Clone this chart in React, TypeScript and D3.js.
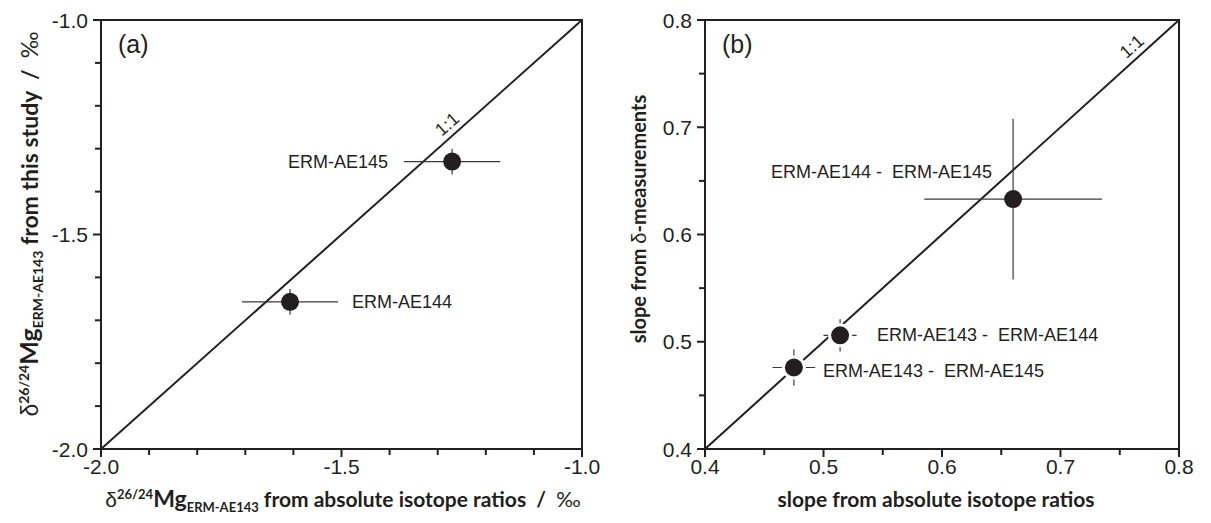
import React from 'react';
import * as d3 from 'd3';

// ---------- data ----------
const aLabels = ['ERM-AE145', 'ERM-AE144'];
const aX = [-1.27, -1.607];
const aXErr = [0.1, 0.1];
const aY = [-1.33, -1.657];
const aYErr = [0.03, 0.03];

const bLabels = ['ERM-AE144 -  ERM-AE145', 'ERM-AE143 -  ERM-AE144', 'ERM-AE143 -  ERM-AE145'];
const bX = [0.66, 0.514, 0.475];
const bXErr = [0.075, 0.014, 0.018];
const bY = [0.633, 0.506, 0.476];
const bYErr = [0.075, 0.015, 0.017];

const aDomain: [number, number] = [-2, -1];
const bDomain: [number, number] = [0.4, 0.8];
const aMajorTicks = [-2.0, -1.5, -1.0];
const aMinorStep = 0.1;
const bMajorTicks = [0.4, 0.5, 0.6, 0.7, 0.8];
const bMinorStep = 0.05;

// ---------- layout ----------
const W = 1211;
const H = 523;
const TOP = 20;
const BOTTOM = 449;
const INK = '#231f20';
const SANS = '"Liberation Sans", Arial, sans-serif';
const BOLD = 'Lato, "Open Sans", sans-serif';

// label placement: [anchor, dx, dy(baseline)]
const aLabelPos: [string, number, number][] = [
  ['end', -64, 6],
  ['start', 62, 6],
];
const bLabelPos: [string, number, number][] = [
  ['end', -21, -21],
  ['start', 37, 6],
  ['start', 29, 10],
];

type PanelProps = {
  x0: number;
  x1: number;
  domain: [number, number];
  majors: number[];
  minorStep: number;
  fmt: (v: number) => string;
  xs: number[];
  ys: number[];
  xe: number[];
  ye: number[];
  labels: string[];
  labelPos: [string, number, number][];
  tag: string;
  halo: boolean;
  oneLabelAt: number;
};

function Panel(p: PanelProps) {
  const x = d3.scaleLinear().domain(p.domain).range([p.x0, p.x1]);
  const y = d3.scaleLinear().domain(p.domain).range([BOTTOM, TOP]);
  const n = Math.round((p.domain[1] - p.domain[0]) / p.minorStep);
  const minors = d3.range(0, n + 1).map((i) => p.domain[0] + i * p.minorStep);
  const isMajor = (v: number) => p.majors.some((m) => Math.abs(m - v) < 1e-9);
  const angle = (-Math.atan((BOTTOM - TOP) / (p.x1 - p.x0)) * 180) / Math.PI;
  const r = 9;
  return (
    <g>
      {/* ticks */}
      {minors.map((v, i) => (
        <line key={'xt' + i} x1={x(v)} x2={x(v)} y1={BOTTOM} y2={BOTTOM + (isMajor(v) ? 8 : 6)} stroke={INK} strokeWidth={2} />
      ))}
      {minors.map((v, i) => (
        <line key={'yt' + i} y1={y(v)} y2={y(v)} x1={p.x0} x2={p.x0 - (isMajor(v) ? 8 : 6)} stroke={INK} strokeWidth={2} />
      ))}
      {p.majors.map((v, i) => (
        <text key={'xl' + i} x={x(v)} y={BOTTOM + 25} textAnchor="middle" fontFamily={SANS} fontSize={21} fill={INK}>
          {p.fmt(v)}
        </text>
      ))}
      {p.majors.map((v, i) => (
        <text key={'yl' + i} x={p.x0 - 13} y={y(v) + 7.5} textAnchor="end" fontFamily={SANS} fontSize={21} fill={INK}>
          {p.fmt(v)}
        </text>
      ))}
      {/* 1:1 line */}
      <line x1={x(p.domain[0])} y1={y(p.domain[0])} x2={x(p.domain[1])} y2={y(p.domain[1])} stroke={INK} strokeWidth={2} />
      <text
        transform={`translate(${x(p.oneLabelAt)},${y(p.oneLabelAt)}) rotate(${angle})`}
        y={-6}
        textAnchor="middle"
        fontFamily={SANS}
        fontSize={18}
        fill={INK}
      >
        1:1
      </text>
      {/* error bars */}
      {p.xs.map((v, i) => (
        <g key={'e' + i}>
          <line x1={x(v - p.xe[i])} x2={x(v + p.xe[i])} y1={y(p.ys[i])} y2={y(p.ys[i])} stroke="#3a3a3a" strokeWidth={1.2} />
          <line x1={x(v)} x2={x(v)} y1={y(p.ys[i] - p.ye[i])} y2={y(p.ys[i] + p.ye[i])} stroke="#3a3a3a" strokeWidth={1.2} />
        </g>
      ))}
      {/* points */}
      {p.xs.map((v, i) => {
        const small = x(v + p.xe[i]) - x(v) < 40;
        return (
          <g key={'p' + i}>
            {p.halo && small && <circle cx={x(v)} cy={y(p.ys[i])} r={r + 3} fill="#fff" />}
            <circle cx={x(v)} cy={y(p.ys[i])} r={r} fill={INK} />
          </g>
        );
      })}
      {/* labels */}
      {p.labels.map((t, i) => (
        <text
          key={'lb' + i}
          x={x(p.xs[i]) + p.labelPos[i][1]}
          y={y(p.ys[i]) + p.labelPos[i][2]}
          textAnchor={p.labelPos[i][0] as any}
          fontFamily={SANS}
          fontSize={18}
          fill={INK}
          style={{ whiteSpace: 'pre' }}
        >
          {t}
        </text>
      ))}
      {/* frame */}
      <rect x={p.x0} y={TOP} width={p.x1 - p.x0} height={BOTTOM - TOP} fill="none" stroke={INK} strokeWidth={2} />
      <text x={p.x0 + 17} y={TOP + 33} fontFamily={SANS} fontSize={25} fill={INK}>
        {p.tag}
      </text>
    </g>
  );
}

export default function App() {
  const fmt1 = (v: number) => v.toFixed(1);
  return (
    <svg width={W} height={H} style={{ position: 'absolute', left: 0, top: 0, background: '#fff' }}>
      <rect width={W} height={H} fill="#fff" />
      <Panel
        x0={101}
        x1={582}
        domain={aDomain}
        majors={aMajorTicks}
        minorStep={aMinorStep}
        fmt={fmt1}
        xs={aX}
        ys={aY}
        xe={aXErr}
        ye={aYErr}
        labels={aLabels}
        labelPos={aLabelPos}
        tag="(a)"
        halo={false}
        oneLabelAt={-1.264}
      />
      <Panel
        x0={705}
        x1={1179}
        domain={bDomain}
        majors={bMajorTicks}
        minorStep={bMinorStep}
        fmt={fmt1}
        xs={bX}
        ys={bY}
        xe={bXErr}
        ye={bYErr}
        labels={bLabels}
        labelPos={bLabelPos}
        tag="(b)"
        halo={true}
        oneLabelAt={0.767}
      />
      {/* axis titles */}
      <text x={343} y={507} textAnchor="middle" fontFamily={BOLD} fontWeight={700} fontSize={21} fill={INK} style={{ whiteSpace: 'pre' }}>
        <tspan fontWeight={400} fontFamily={SANS}>δ</tspan>
        <tspan fontSize={13} dy={-8}>26/24</tspan>
        <tspan fontSize={23} dy={8}>Mg</tspan>
        <tspan fontSize={13} dy={5}>ERM-AE143</tspan>
        <tspan dy={-5}>{' from absolute isotope ratios  /  '}</tspan>
        <tspan fontWeight={400}>‰</tspan>
      </text>
      <text transform="translate(38,224) rotate(-90)" textAnchor="middle" fontFamily={BOLD} fontWeight={700} fontSize={23} fill={INK} style={{ whiteSpace: 'pre' }}>
        <tspan fontWeight={400} fontFamily={SANS}>δ</tspan>
        <tspan fontSize={14} dy={-9}>26/24</tspan>
        <tspan fontSize={25} dy={9}>Mg</tspan>
        <tspan fontSize={14} dy={5}>ERM-AE143</tspan>
        <tspan dy={-5}>{' from this study  /  '}</tspan>
        <tspan fontWeight={400}>‰</tspan>
      </text>
      <text x={936} y={507} textAnchor="middle" fontFamily={BOLD} fontWeight={700} fontSize={21} fill={INK}>
        slope from absolute isotope ratios
      </text>
      <text transform="translate(646,219) rotate(-90)" textAnchor="middle" fontFamily={BOLD} fontWeight={700} fontSize={20} fill={INK}>
        slope from <tspan fontWeight={400} fontFamily={SANS}>δ</tspan>-measurements
      </text>
    </svg>
  );
}
